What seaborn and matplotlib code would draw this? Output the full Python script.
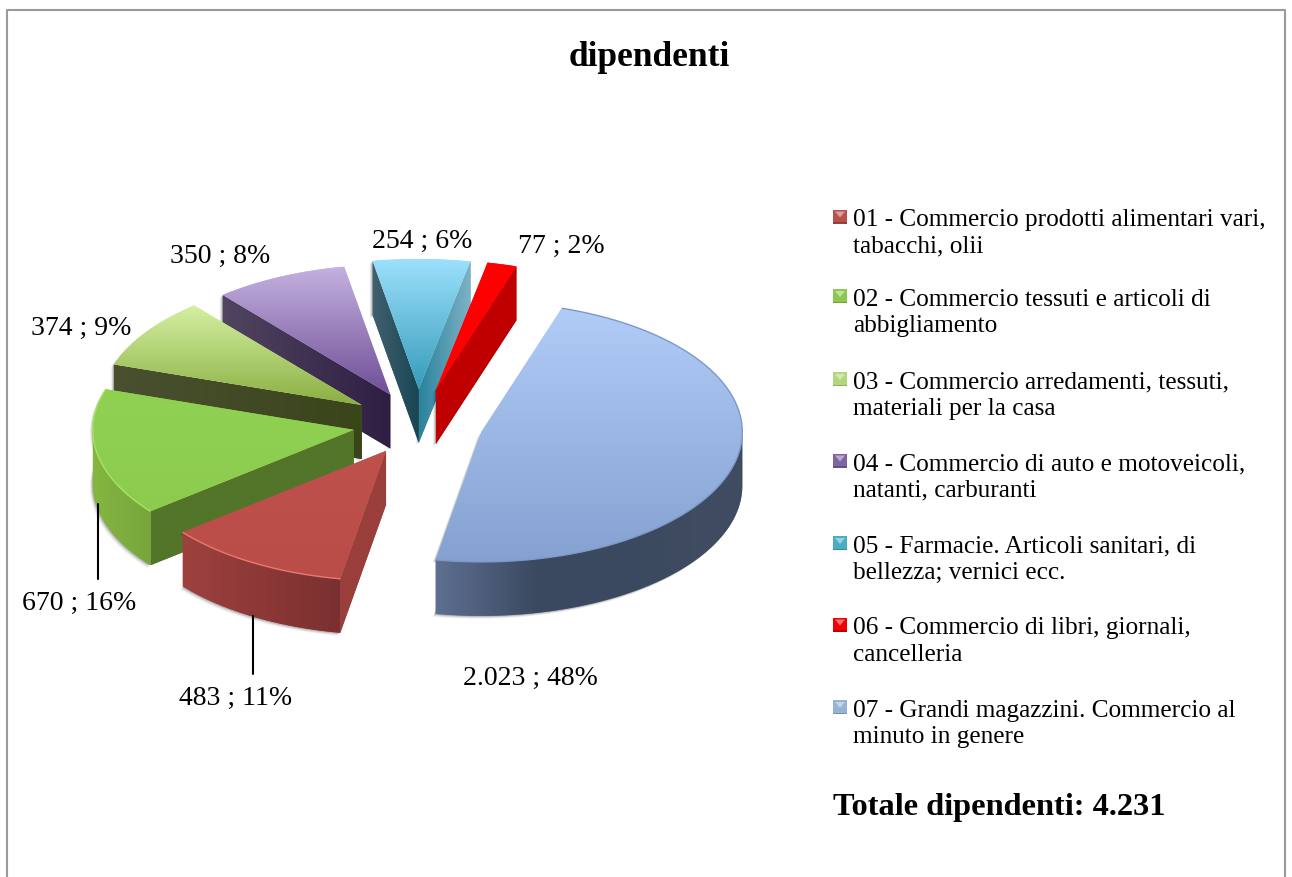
import numpy as np
import matplotlib
matplotlib.use('Agg')
import matplotlib.pyplot as plt
from matplotlib.patches import Polygon
from matplotlib.lines import Line2D
import seaborn as sns

# dati
codes = ['01', '02', '03', '04', '05', '06', '07']
legend_labels = [
    '01 - Commercio prodotti alimentari vari,\ntabacchi, olii',
    '02 - Commercio tessuti e articoli di\nabbigliamento',
    '03 - Commercio arredamenti, tessuti,\nmateriali per la casa',
    '04 - Commercio di auto e motoveicoli,\nnatanti, carburanti',
    '05 - Farmacie. Articoli sanitari, di\nbellezza; vernici ecc.',
    '06 - Commercio di libri, giornali,\ncancelleria',
    '07 - Grandi magazzini. Commercio al\nminuto in genere',
]
dipendenti = [483, 670, 374, 350, 254, 77, 2023]
percent = [11, 16, 9, 8, 6, 2, 48]
title = 'dipendenti'
total_label = 'Totale dipendenti: 4.231'

# stile e posizioni
W, H = 1292, 878
FONT = 'Liberation Serif'
CX, CY = 418, 425
RX, RY = 261, 130
DEPTH = 54 / RY
explode = [0.24, 0.25, 0.26, 0.25, 0.27, 0.27, 0.25]
draw_order = [4, 5, 3, 2, 6, 1, 0]
top_colors = [
    ['#BF514D', '#BB4D49'], ['#90D152', '#8CCB4E'], ['#D4F0A2', '#8BAF42'],
    ['#C4B1DF', '#6E4E96'], ['#9CE0FC', '#359CBA'], ['#FF0000', '#FF0000'],
    ['#B1CCF7', '#85A1D1'],
]
outer_colors = {0: ['#9E413E', '#7A3030'], 1: ['#84B640', '#76A63C'],
                6: ['#5E6F90', '#3A4860', '#3C4A60', '#404C62']}
start_wall_colors = {4: ['#2A839C', '#7FB2C6'], 5: ['#C00000', '#C00000']}
end_wall_colors = {0: ['#9A3F3B', '#9A3F3B'], 1: ['#52752A', '#52752A'],
                   2: ['#4A5030', '#3A451A'], 3: ['#504560', '#2F1E43'],
                   4: ['#42606F', '#174552']}
rim_colors = {0: '#E57A72', 1: '#A9E262', 6: '#7C9AC8'}
marker_colors = ['#B9504C', '#8CC850', '#B4D67C', '#8064A2', '#4BACC6', '#F00000', '#95B3D7']
label_pos = [(236, 698), (79, 603), (81, 328), (220, 256), (422, 241), (561, 246), (530, 678)]
legend_y = [233.5, 313, 396, 477.5, 560, 641.5, 724]
leaders = [(253, 617, 675), (98, 505, 580)]

sns.set_theme(style='white')
plt.rcParams['font.family'] = [FONT, 'DejaVu Serif']
plt.rcParams['text.color'] = 'black'

fig = plt.figure(figsize=(W / 100, H / 100), dpi=100, facecolor='white')
ax = fig.add_axes([0, 0, 1, 1])

wedges, _ = ax.pie(dipendenti, explode=explode, startangle=-100.1, counterclock=False,
                   radius=1, center=(0, 0), wedgeprops={'linewidth': 0})
ax.set_aspect('auto')
ax.set_xlim(-CX / RX, (W - CX) / RX)
ax.set_ylim(-(H - CY) / RY, CY / RY)
ax.axis('off')


def gradient_fill(patch, colors, horizontal, z, extent=None):
    patch.set_zorder(z)
    patch.set_facecolor(colors[0])
    cmap = sns.blend_palette(colors, as_cmap=True)
    g = np.linspace(0, 1, 256)
    g = g.reshape(1, -1) if horizontal else g.reshape(-1, 1)
    im = ax.imshow(g, cmap=cmap, extent=extent, aspect='auto', origin='upper',
                   vmin=0, vmax=1, zorder=z + 0.1, interpolation='bilinear')
    im.set_clip_path(patch)
    return im


def bbox_of(pts):
    pts = np.asarray(pts)
    return (pts[:, 0].min(), pts[:, 0].max(), pts[:, 1].min(), pts[:, 1].max())


def arc_pts(c, t1, t2, n=80):
    t = np.radians(np.linspace(t1, t2, n))
    return np.column_stack([c[0] + np.cos(t), c[1] + np.sin(t)])


z = 2
for i in draw_order:
    w = wedges[i]
    c = np.array(w.center)
    t1, t2 = w.theta1, w.theta2
    # pie in senso orario va sotto -180: riporto gli angoli nel giro giusto
    if t2 < -180:
        t1, t2 = t1 + 360, t2 + 360
    top_pts = np.vstack([[c], arc_pts(c, t1, t2)])

    # ombra sotto la fetta
    for k, a in zip([1, 2, 3], [0.16, 0.10, 0.05]):
        sh = top_pts + [-k / RX, -DEPTH - k / RY]
        low = np.vstack([top_pts + [-k / RX, -k / RY], sh[::-1]])
        ax.add_patch(Polygon(low, fc='black', ec='none', alpha=a, zorder=z))
    z += 1

    # pareti radiali visibili
    walls = []
    if np.cos(np.radians(t1)) > 0:
        walls.append((t1, start_wall_colors.get(i)))
    if np.cos(np.radians(t2)) < 0:
        walls.append((t2, end_wall_colors.get(i)))
    for t, cols in walls:
        edge = c + [np.cos(np.radians(t)), np.sin(np.radians(t))]
        quad = np.array([c, edge, edge - [0, DEPTH], c - [0, DEPTH]])
        p = Polygon(quad, ec='none', lw=0)
        ax.add_patch(p)
        x0, x1, y0, y1 = bbox_of(quad)
        gradient_fill(p, cols, True, z, (x0, x1, y0, y1))
        z += 1

    # parete esterna
    lo, hi = max(t1, -180), min(t2, 0)
    if i in outer_colors and hi > lo:
        arc = arc_pts(c, lo, hi)
        ring = np.vstack([arc, (arc - [0, DEPTH])[::-1]])
        p = Polygon(ring, ec='none', lw=0)
        ax.add_patch(p)
        x0, x1, y0, y1 = bbox_of(ring)
        gradient_fill(p, outer_colors[i], True, z, (x0, x1, y0, y1))
        z += 1

    # faccia superiore
    x0, x1, y0, y1 = bbox_of(top_pts)
    gradient_fill(w, top_colors[i], False, z, (x0, x1, y0, y1))
    z += 1
    if i in rim_colors:
        front = arc_pts(c, t1, t2)
        ax.plot(front[:, 0], front[:, 1], color=rim_colors[i], lw=1.0, zorder=z,
                solid_capstyle='butt')
    z += 1

# cornice aperta in basso
frame_x = np.array([7, 7, 1285, 1285]) / W
frame_y = 1 - np.array([H, 10.5, 10.5, H]) / H
fig.add_artist(Line2D(frame_x, frame_y, color='#9A9A9A', lw=1.5))

for x, y0, y1 in leaders:
    fig.add_artist(Line2D([x / W, x / W], [1 - y0 / H, 1 - y1 / H], color='black', lw=1.5))

for v, pc, (x, y) in zip(dipendenti, percent, label_pos):
    txt = f'{v:,}'.replace(',', '.') + f' ; {pc}%'
    fig.text(x / W, 1 - y / H, txt, fontsize=20, ha='center', va='center', color='black')

fig.text(649 / W, 1 - 57 / H, title, fontsize=25.5, fontweight='bold', ha='center', va='center')

for lab, y, col in zip(legend_labels, legend_y, sns.color_palette(marker_colors)):
    ym = y - 16
    sq = np.array([[833, ym - 7], [847, ym - 7], [847, ym + 7], [833, ym + 7]], dtype=float)
    to_fig = lambda a: np.column_stack([a[:, 0] / W, 1 - a[:, 1] / H])
    fig.add_artist(Polygon(to_fig(sq), closed=True, fc=col, ec='none',
                           transform=fig.transFigure))
    light = tuple(min(1, c * 0.55 + 0.45) for c in col)
    dark = tuple(c * 0.8 for c in col)
    tri = np.array([[835, ym - 5], [845, ym - 5], [840, ym + 1]], dtype=float)
    fig.add_artist(Polygon(to_fig(tri), closed=True, fc=light, ec='none',
                           transform=fig.transFigure))
    bot = np.array([[833, ym + 5.5], [847, ym + 5.5], [847, ym + 7], [833, ym + 7]], dtype=float)
    fig.add_artist(Polygon(to_fig(bot), closed=True, fc=dark, ec='none',
                           transform=fig.transFigure))
    fig.text(853 / W, 1 - y / H, lab, fontsize=18.2, ha='left', va='center', linespacing=1.25)

fig.text(833 / W, 1 - 808 / H, total_label, fontsize=23.3, fontweight='bold', ha='left', va='center')

fig.savefig('out.png', dpi=100, facecolor='white')
